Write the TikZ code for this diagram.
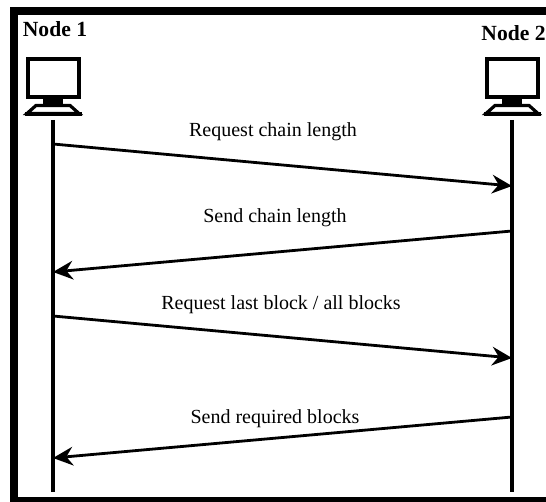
\documentclass[tikz,border=0pt]{standalone}
\usepackage{fontspec}
\setmainfont{Liberation Serif}
\usetikzlibrary{calc}
\usetikzlibrary{arrows.meta}
\tikzset{
  lifeline/.style={line width=3pt},
  message/.style={line width=2.1pt,-{Stealth[length=15pt,width=14pt,inset=5pt]}},
  msglabel/.style={font=\fontsize{15}{17}\selectfont},
  hostlabel/.style={font=\fontsize{16.2}{18}\selectfont\bfseries},
}
\newcommand{\computer}[2]{
  \begin{scope}[shift={(#1,#2)}]
    \draw[line width=3pt] (0,0) rectangle (51,38);
    \fill (15,38) rectangle (35,46);
    \draw[line width=2.4pt] (8,46) -- (42,46) -- (51,54) -- (-1,54) -- cycle;
    \draw[line width=2.8pt] (-3,54.5) -- (54,54.5);
  \end{scope}
}
\begin{document}
\begin{tikzpicture}[x=0.75pt,y=-0.75pt]
        \useasboundingbox (0,0) rectangle (546,502);
        \draw[line width=6pt] (14,502) -- (14,11) -- (546,11);
        \draw[line width=3.6pt] (10,499.5) -- (546,499.5);
        \node[hostlabel] (label1) at (55,29) {Node 1};
        \node[hostlabel] (label2) at (513.5,33) {Node 2};
        \computer{28}{59.5}
        \computer{487}{59.5}
        \coordinate (T1) at (53,120);
        \coordinate (B1) at (53,492);
        \coordinate (T2) at (512,120);
        \coordinate (B2) at (512,492);
        \draw[lifeline] (T1) -- (B1);
        \draw[lifeline] (T2) -- (B2);
        \coordinate (A1) at (53,144);
        \coordinate (A2) at (512,186);
        \coordinate (B2a) at (512,231);
        \coordinate (B1a) at (53,272);
        \coordinate (C1) at (53,316);
        \coordinate (C2) at (512,358);
        \coordinate (D2) at (512,417);
        \coordinate (D1) at (53,458);
        \draw[message] (A1) -- (A2);
        \draw[message] (B2a) -- (B1a);
        \draw[message] (C1) -- (C2);
        \draw[message] (D2) -- (D1);
        \node[msglabel] (msg1) at (273,132) {Request chain length};
        \node[msglabel] (msg2) at (275,218) {Send chain length};
        \node[msglabel] (msg3) at (281,305) {Request last block / all blocks};
        \node[msglabel] (msg4) at (275,419) {Send required blocks};
    \end{tikzpicture}
\end{document}
